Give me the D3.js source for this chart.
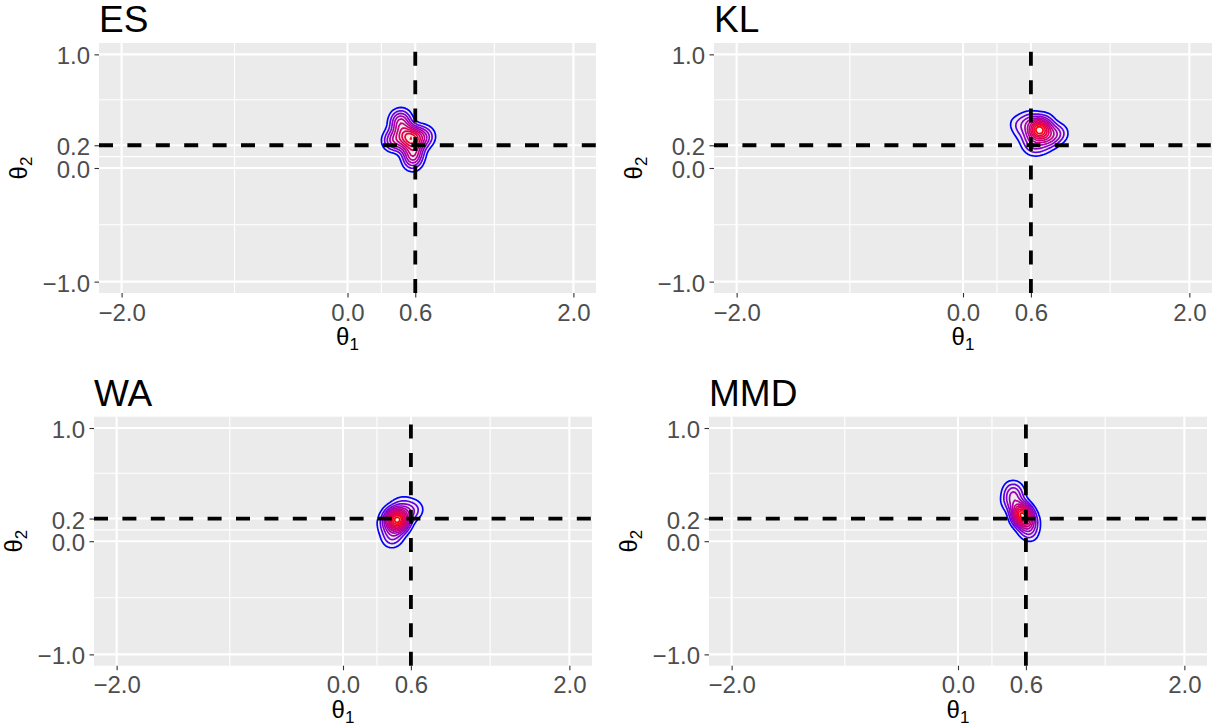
<!DOCTYPE html>
<html>
<head>
<meta charset="utf-8">
<script src="https://cdn.jsdelivr.net/npm/d3@7"></script>
<style>
body { margin: 0; background: #fff; }
text { font-family: "Liberation Sans", Arial, sans-serif; }
</style>
</head>
<body>
<div class="Chart"></div>
<script>
// axis breaks
var xTicks = [-2, 0, 0.6, 2];
var yTicks = [-1, 0, 0.2, 1];
var xMinor = [-1, 0.3, 1.3];
var yMinor = [-0.5, 0.1, 0.6];
var xLimits = [-2, 2];
var yLimits = [-1, 1];
var trueTheta = [0.6, 0.2];
var methods = ["ES", "KL", "WA", "MMD"];

// posterior draws (theta1, theta2)
var esDraws = [
	[0.55,0.27],[0.57,0.26],[0.53,0.28],[0.56,0.29],[0.58,0.25],[0.52,0.25],[0.54,0.24],
	[0.59,0.28],[0.56,0.23],[0.51,0.29],[0.60,0.26],[0.55,0.31],
	[0.48,0.36],[0.46,0.42],[0.44,0.45],[0.50,0.40],[0.47,0.33],[0.42,0.38],[0.45,0.30],
	[0.50,0.44],[0.43,0.27],[0.46,0.39],[0.48,0.47],[0.52,0.35],
	[0.40,0.25],[0.38,0.26],[0.37,0.23],[0.41,0.21],[0.44,0.22],[0.48,0.20],
	[0.65,0.30],[0.68,0.27],[0.64,0.24],[0.70,0.30],[0.62,0.33],[0.66,0.22],[0.72,0.27],
	[0.58,0.18],[0.56,0.13],[0.60,0.08],[0.57,0.05],[0.54,0.17],[0.62,0.15],[0.57,0.10],
	[0.59,0.12],[0.58,0.02],[0.56,0.08],[0.60,0.15]
];
var klDraws = [
	[0.67,0.33],[0.66,0.34],[0.68,0.32],[0.65,0.32],[0.69,0.35],[0.67,0.36],[0.64,0.35],
	[0.70,0.31],[0.66,0.30],[0.71,0.34],[0.63,0.31],[0.68,0.38],[0.67,0.33],[0.68,0.34],
	[0.60,0.40],[0.55,0.38],[0.50,0.36],[0.52,0.30],[0.58,0.28],[0.60,0.22],[0.62,0.17],
	[0.66,0.20],[0.72,0.24],[0.78,0.28],[0.82,0.30],[0.85,0.32],[0.78,0.35],[0.74,0.40],
	[0.72,0.44],[0.62,0.44],[0.56,0.44],[0.46,0.40],[0.70,0.18],[0.58,0.20],
	[0.80,0.25],[0.75,0.22],[0.88,0.30],[0.76,0.30]
];
var waDraws = [
	[0.48,0.19],[0.47,0.20],[0.49,0.18],[0.46,0.17],[0.50,0.21],[0.48,0.22],[0.45,0.20],
	[0.51,0.18],[0.47,0.15],[0.50,0.16],[0.44,0.22],[0.49,0.24],[0.52,0.20],[0.46,0.13],
	[0.42,0.18],[0.53,0.14],[0.48,0.18],[0.47,0.19],
	[0.40,0.12],[0.38,0.20],[0.42,0.26],[0.48,0.30],[0.54,0.28],[0.58,0.24],[0.62,0.27],
	[0.66,0.28],[0.60,0.32],[0.52,0.34],[0.56,0.20],[0.44,0.06],[0.40,0.04],[0.50,0.08],
	[0.36,0.14],[0.42,0.00],[0.46,0.02]
];
var mmdDraws = [
	[0.56,0.25],[0.57,0.24],[0.55,0.26],[0.58,0.22],[0.54,0.23],[0.57,0.28],[0.59,0.20],
	[0.60,0.24],[0.53,0.27],[0.56,0.19],[0.61,0.17],[0.58,0.16],[0.57,0.23],[0.56,0.22],
	[0.58,0.26],[0.55,0.21],[0.57,0.21],
	[0.62,0.12],[0.60,0.10],[0.63,0.08],[0.65,0.15],[0.66,0.20],[0.64,0.05],
	[0.48,0.42],[0.50,0.39],[0.46,0.46],[0.49,0.48],[0.52,0.36],[0.50,0.32],[0.45,0.38],
	[0.54,0.31],[0.53,0.44],[0.44,0.33]
];
var draws = [esDraws, klDraws, waDraws, mmdDraws];

// panel boxes in px
var layout = [
	{left: 99,  top: 43,    width: 497, height: 250},
	{left: 714, top: 43,    width: 498, height: 250},
	{left: 94,  top: 416.7, width: 498, height: 249},
	{left: 709, top: 416.7, width: 498, height: 249}
];

var svg = d3.select('.Chart').append('svg')
	.attr('width', 1224)
	.attr('height', 727);

var fmt = d3.format('.1f');

methods.forEach(function(name, i){
	var box = layout[i];
	var g = svg.append('g').attr('transform', 'translate(' + box.left + ',' + box.top + ')');

	// ggplot style 5% expansion
	var xPad = (xLimits[1] - xLimits[0]) * 0.05,
		yPad = (yLimits[1] - yLimits[0]) * 0.05;
	var x = d3.scaleLinear().domain([xLimits[0] - xPad, xLimits[1] + xPad]).range([0, box.width]);
	var y = d3.scaleLinear().domain([yLimits[0] - yPad, yLimits[1] + yPad]).range([box.height, 0]);

	g.append('rect')
		.attr('width', box.width)
		.attr('height', box.height)
		.style('fill', '#EBEBEB');

	// minor then major grid
	g.selectAll('.vminor').data(xMinor).enter().append('line')
		.attr('x1', function(d){ return x(d); }).attr('x2', function(d){ return x(d); })
		.attr('y1', 0).attr('y2', box.height)
		.style('stroke', '#fff').style('stroke-width', 1.1);
	g.selectAll('.hminor').data(yMinor).enter().append('line')
		.attr('y1', function(d){ return y(d); }).attr('y2', function(d){ return y(d); })
		.attr('x1', 0).attr('x2', box.width)
		.style('stroke', '#fff').style('stroke-width', 1.1);
	g.selectAll('.vmajor').data(xTicks).enter().append('line')
		.attr('x1', function(d){ return x(d); }).attr('x2', function(d){ return x(d); })
		.attr('y1', 0).attr('y2', box.height)
		.style('stroke', '#fff').style('stroke-width', 2.1);
	g.selectAll('.hmajor').data(yTicks).enter().append('line')
		.attr('y1', function(d){ return y(d); }).attr('y2', function(d){ return y(d); })
		.attr('x1', 0).attr('x2', box.width)
		.style('stroke', '#fff').style('stroke-width', 2.1);

	// 2d density contours
	var density = d3.contourDensity()
		.x(function(d){ return x(d[0]); })
		.y(function(d){ return y(d[1]); })
		.size([box.width, box.height])
		.cellSize(2)
		.bandwidth(5.5);
	var contourAt = density.contours(draws[i]);
	var levels = d3.ticks(0, contourAt.max, 10).filter(function(t){ return t > 0 && t < contourAt.max; });
	var colour = d3.scaleLinear()
		.domain(d3.extent(levels))
		.range(['#0000FF', '#FF0000'])
		.interpolate(d3.interpolateLab);
	var path = d3.geoPath();
	g.selectAll('.level').data(levels).enter().append('path')
		.attr('d', function(t){ return path(contourAt(t)); })
		.style('fill', 'none')
		.style('stroke', function(t){ return colour(t); })
		.style('stroke-width', 1.7);

	// true values
	g.append('line')
		.attr('x1', 0).attr('x2', box.width)
		.attr('y1', y(trueTheta[1])).attr('y2', y(trueTheta[1]))
		.style('stroke', '#000').style('stroke-width', 3.8).style('stroke-dasharray', '14,14.4');
	g.append('line')
		.attr('x1', x(trueTheta[0])).attr('x2', x(trueTheta[0]))
		.attr('y1', box.height).attr('y2', 0)
		.style('stroke', '#000').style('stroke-width', 3.8).style('stroke-dasharray', '14,14.4');

	// axes
	var xAxis = g.append('g')
		.attr('transform', 'translate(0,' + box.height + ')')
		.call(d3.axisBottom(x).tickValues(xTicks).tickFormat(fmt).tickSize(4.5).tickPadding(6));
	var yAxis = g.append('g')
		.call(d3.axisLeft(y).tickValues(yTicks).tickFormat(fmt).tickSize(4.5).tickPadding(4.5));
	[xAxis, yAxis].forEach(function(a){
		a.select('.domain').remove();
		a.selectAll('line').style('stroke', '#333').style('stroke-width', 1.1);
		a.selectAll('text')
			.style('fill', '#4D4D4D')
			.style('font-size', '24px')
			.style('font-family', '"Liberation Sans", Arial, sans-serif');
	});
	yAxis.selectAll('text').attr('dy', '0.4em');

	// axis titles
	var xt = g.append('text')
		.attr('x', box.width / 2)
		.attr('y', box.height + 52)
		.attr('text-anchor', 'middle')
		.style('font-size', '24px');
	xt.append('tspan').text('\u03b8');
	xt.append('tspan').attr('dy', 5).style('font-size', '17px').text('1');

	var yt = g.append('text')
		.attr('transform', 'translate(-72,' + (box.height / 2) + ') rotate(-90)')
		.attr('text-anchor', 'middle')
		.style('font-size', '24px');
	yt.append('tspan').text('\u03b8');
	yt.append('tspan').attr('dy', 5).style('font-size', '17px').text('2');

	// title
	g.append('text')
		.attr('x', 0)
		.attr('y', -11)
		.style('font-size', '37px')
		.style('fill', '#000')
		.text(name);
});
</script>
</body>
</html>
